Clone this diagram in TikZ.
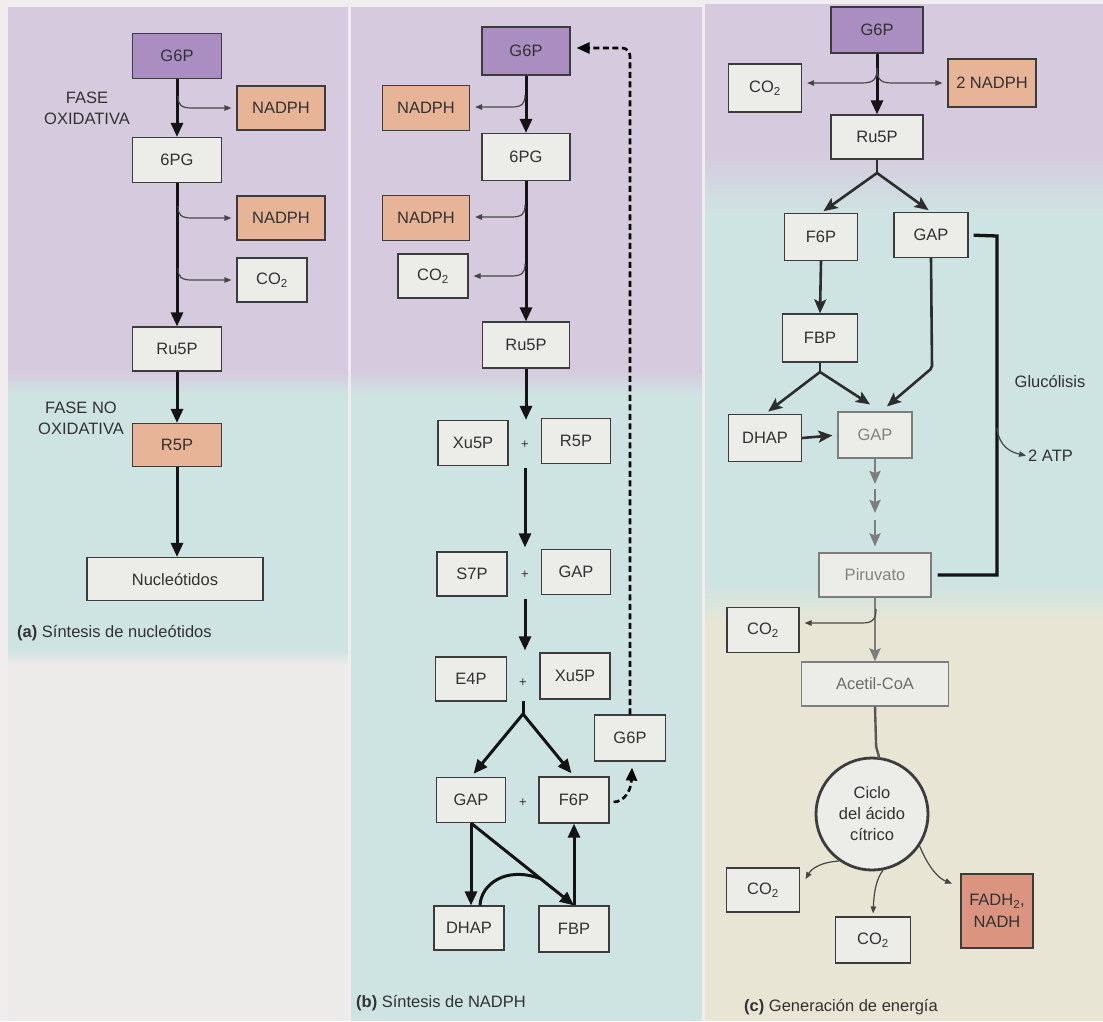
\documentclass[tikz,border=0pt]{standalone}
\usepackage{fontspec}
\setmainfont{Liberation Sans}
\usetikzlibrary{arrows.meta,calc}
\definecolor{bgpurple}{RGB}{214,202,222}
\definecolor{bgteal}{RGB}{206,228,226}
\definecolor{bgbeige}{RGB}{232,229,213}
\definecolor{bglight}{RGB}{236,235,233}
\definecolor{bgmargin}{RGB}{241,237,239}
\definecolor{boxfill}{RGB}{236,236,233}
\definecolor{purplebox}{RGB}{170,142,194}
\definecolor{orangebox}{RGB}{232,180,152}
\definecolor{salmonbox}{RGB}{218,148,128}
\definecolor{boxline}{RGB}{60,60,60}
\definecolor{txt}{RGB}{50,50,50}
\definecolor{thinc}{RGB}{70,70,70}
\definecolor{arrc}{RGB}{45,45,45}
\definecolor{arrgrey}{RGB}{125,125,125}
\definecolor{txtgrey}{RGB}{130,130,130}
\newcommand{\myfs}{\fontsize{16.5}{21}\selectfont}
\newcommand{\msub}[1]{\textsubscript{#1}}
\begin{document}
\begin{tikzpicture}[x=1pt,y=-1pt,
  box/.style={draw=boxline, line width=1.2pt, fill=boxfill, text=txt, font=\myfs, inner sep=0pt, align=center},
  sz/.style 2 args={minimum width=#1pt, minimum height=#2pt},
  pur/.style={fill=purplebox},
  ora/.style={fill=orangebox},
  lbl/.style={text=txt, font=\myfs, align=center, inner sep=0pt},
  plus/.style={text=txt, font=\fontsize{13}{13}\selectfont, inner sep=0pt},
  main/.style={draw=black!92, line width=3pt, -{Triangle[length=14pt,width=12pt]}},
  mainline/.style={draw=black!92, line width=3pt},
  mainc/.style={draw=arrc, line width=2.6pt, -{Stealth[length=14pt,width=12pt,inset=3pt]}},
  greyarr/.style={draw=arrgrey, line width=2.5pt, -{Stealth[length=13pt,width=11pt,inset=2pt]}},
  thin/.style={draw=thinc, line width=1.2pt, -{Triangle[length=7pt,width=5.5pt]}, shorten >=5pt},
  dsh/.style={draw=black, line width=2.6pt, dash pattern=on 6pt off 3.5pt, -{Triangle[length=13pt,width=11pt]}}
]
\useasboundingbox (0,0) rectangle (1103,1021);
% ---------- backgrounds
\fill[bgmargin] (0,0) rectangle (1103,1021);
% panel a
\fill[bgpurple] (8,7) rectangle (348,372);
\shade[top color=bgpurple,bottom color=bgteal] (8,372) rectangle (348,394);
\fill[bgteal] (8,394) rectangle (348,650);
\shade[top color=bgteal,bottom color=bglight] (8,650) rectangle (348,664);
\fill[bglight] (8,664) rectangle (348,1021);
% panel b
\fill[bgpurple] (351,7) rectangle (702,370);
\shade[top color=bgpurple,bottom color=bgteal] (351,370) rectangle (702,396);
\fill[bgteal] (351,396) rectangle (702,1021);
% panel c
\fill[bgpurple] (705,4) rectangle (1103,150);
\shade[top color=bgpurple,bottom color=bgteal] (705,150) rectangle (1103,215);
\fill[bgteal] (705,215) rectangle (1103,585);
\shade[top color=bgteal,bottom color=bgbeige] (705,585) rectangle (1103,622);
\fill[bgbeige] (705,622) rectangle (1103,1021);

% ================= panel (a)
\node[box,pur,sz={89}{45}] (aG6P) at (177,56) {G6P};
\node[box,ora,sz={88}{44}] (aN1) at (281,108) {NADPH};
\node[box,sz={89}{45}] (a6PG) at (177,160) {6PG};
\node[box,ora,sz={88}{44}] (aN2) at (281,218) {NADPH};
\node[box,sz={70}{44}] (aCO2) at (272,280) {CO\msub{2}};
\node[box,sz={89}{44}] (aRu5P) at (177,349) {Ru5P};
\node[box,ora,sz={89}{43}] (aR5P) at (177,445) {R5P};
\node[box,sz={176}{43}] (aNuc) at (175,579) {Nucleótidos};
\node[lbl] (aFase1) at (87,108) {FASE\\OXIDATIVA};
\node[lbl] (aFase2) at (81,418) {FASE NO\\OXIDATIVA};
\node[lbl,anchor=west] (aCap) at (17,633) {\textbf{(a)} Síntesis de nucleótidos};

\draw[main] (aG6P.south) -- (a6PG.north);
\draw[main] (a6PG.south) -- (aRu5P.north);
\draw[main] (aRu5P.south) -- (aR5P.north);
\draw[main] (aR5P.south) -- (aR5P.south |- aNuc.north);
\coordinate (ab1) at (178,96);
\coordinate (ab2) at (178,206);
\coordinate (ab3) at (178,268);
\draw[thin] (ab1) .. controls (178,105) and (181,108) .. (192,108) -- (aN1.west);
\draw[thin] (ab2) .. controls (178,215) and (181,218) .. (192,218) -- (aN2.west);
\draw[thin] (ab3) .. controls (178,277) and (181,280) .. (192,280) -- (aCO2.west);

% ================= panel (b)
\node[box,pur,sz={88}{48}] (bG6P) at (526,51) {G6P};
\node[box,ora,sz={87}{45}] (bN1) at (426,108) {NADPH};
\node[box,sz={88}{47}] (b6PG) at (526,157) {6PG};
\node[box,ora,sz={87}{45}] (bN2) at (426,218) {NADPH};
\node[box,sz={70}{44}] (bCO2) at (433,276) {CO\msub{2}};
\node[box,sz={87}{46}] (bRu5P) at (526,345) {Ru5P};
\node[box,sz={70}{45}] (bXu5P) at (473,443) {Xu5P};
\node[box,sz={69}{45}] (bR5P) at (576,441) {R5P};
\node[box,sz={70}{44}] (bS7P) at (472,574) {S7P};
\node[box,sz={69}{45}] (bGAP) at (576,572) {GAP};
\node[box,sz={71}{44}] (bE4P) at (471,679) {E4P};
\node[box,sz={70}{46}] (bXu5Pb) at (575,676) {Xu5P};
\node[box,sz={71}{46}] (bG6Pb) at (630,738) {G6P};
\node[box,sz={69}{45}] (bGAPb) at (471,800) {GAP};
\node[box,sz={70}{46}] (bF6P) at (574,800) {F6P};
\node[box,sz={70}{44}] (bDHAP) at (469,928) {DHAP};
\node[box,sz={70}{46}] (bFBP) at (574,929) {FBP};
\node[plus] (bp1) at (525,445) {+};
\node[plus] (bp2) at (525,575) {+};
\node[plus] (bp3) at (523,683) {+};
\node[plus] (bp4) at (523,803) {+};
\node[lbl,anchor=west] (bCap) at (356,1003) {\textbf{(b)} Síntesis de NADPH};

\draw[main] (bG6P.south) -- (b6PG.north);
\draw[main] (b6PG.south) -- (bRu5P.north);
\draw[main] (bRu5P.south) -- (bRu5P.south |- bXu5P.north);
\draw[main, shorten <=2pt, shorten >=4pt] (bp1 |- bXu5P.south) -- (bp1 |- bS7P.north);
\draw[main, shorten <=2pt, shorten >=6pt] (bp2 |- bS7P.south) -- (bp2 |- bE4P.north);
\coordinate (bb1) at (525,95);
\coordinate (bb2) at (525,205);
\coordinate (bb3) at (525,264);
\draw[thin] (bb1) .. controls (525,104) and (522,107) .. (511,107) -- (bN1.east |- 0,107);
\draw[thin] (bb2) .. controls (525,214) and (522,217) .. (511,217) -- (bN2.east |- 0,217);
\draw[thin] (bb3) .. controls (525,273) and (522,276) .. (511,276) -- (bCO2.east);
% split
\coordinate (bs0) at (523,701);
\coordinate (bs1) at (523,714);
\draw[mainline] (bs0) -- (bs1);
\draw[main, shorten >=4pt] (bs1) -- (bGAPb.north);
\draw[main, shorten >=4pt] (bs1) -- (bF6P.north);
% lower loop
\draw[main] (bGAPb.south) -- (bGAPb.south |- bDHAP.north);
\draw[main] (bGAPb.south) -- (bFBP.north);
\draw[mainline] ($(bDHAP.north)+(11,0)$) .. controls (481,884) and (506,866) .. (540,878.5);
\draw[main] (bFBP.north) -- (bF6P.south);
% dashed return
\draw[dsh] ($(bF6P.east)+(4,2)$) .. controls (623,802) and (631,792) .. ($(bG6Pb.south)+(2,6)$);
\draw[dsh, rounded corners=8pt] (bG6Pb.north) |- ($(bG6P.east)+(6,-3)$);

% ================= panel (c)
\node[box,pur,sz={92}{46}] (cG6P) at (877,30) {G6P};
\node[box,sz={73}{48}] (cCO2a) at (765,88) {CO\msub{2}};
\node[box,ora,sz={88}{48}] (cN) at (992,83) {2 NADPH};
\node[box,sz={92}{44}] (cRu5P) at (877,137) {Ru5P};
\node[box,sz={73}{47}] (cF6P) at (821,237) {F6P};
\node[box,sz={74}{45}] (cGAP) at (931,235) {GAP};
\node[box,sz={75}{48}] (cFBP) at (820,338) {FBP};
\node[box,sz={73}{47}] (cDHAP) at (765,438) {DHAP};
\node[box,sz={74}{46},draw=arrgrey,text=txtgrey] (cGAP2) at (875,435) {GAP};
\node[box,sz={112}{44},draw=arrgrey,text=txtgrey] (cPir) at (875,575) {Piruvato};
\node[box,sz={72}{45}] (cCO2b) at (763,630) {CO\msub{2}};
\node[box,sz={147}{44},draw=arrgrey,text=txtgrey!85!black] (cAce) at (875,684) {Acetil-CoA};
\node[box,circle,minimum size=112pt,line width=2.8pt] (cCyc) at (872,814) {Ciclo\\del ácido\\cítrico};
\node[box,sz={73}{44}] (cCO2c) at (763,890) {CO\msub{2}};
\node[box,sz={75}{46}] (cCO2d) at (873,940) {CO\msub{2}};
\node[box,sz={72}{74},fill=salmonbox,font=\fontsize{16.5}{22}\selectfont] (cFAD) at (997,911) {FADH\msub{2},\\NADH};
\node[lbl] (cGlu) at (1050,381) {Glucólisis};
\node[lbl,anchor=west] (cATP) at (1028,456) {2 ATP};
\node[lbl,anchor=west] (cCap) at (744,1007) {\textbf{(c)} Generación de energía};

\draw[main] (cG6P.south) -- (cRu5P.north);
\coordinate (cb1) at (877,68);
\draw[thin] (cb1) .. controls (877,79) and (874,83) .. (862,83) -- (cCO2a.east |- cN.west);
\draw[thin] (cb1) .. controls (877,79) and (880,83) .. (892,83) -- (cN.west);
% Ru5P split
\coordinate (cs1) at (877,173);
\draw[draw=arrc, line width=2.6pt] (cRu5P.south) -- (cs1);
\draw[mainc, shorten >=3pt] (cs1) -- (cF6P.north);
\draw[mainc, shorten >=3pt] (cs1) -- (cGAP.north);
\draw[mainc] (cF6P.south) -- (cFBP.north);
% FBP split
\coordinate (cs2) at (820,372);
\draw[draw=arrc, line width=2.6pt] (cFBP.south) -- (cs2);
\draw[mainc, shorten >=4pt] (cs2) -- (cDHAP.north);
\draw[mainc] (cs2) -- ($(cGAP2.north)+(-5,-7)$);
\draw[mainc, rounded corners=2pt] (cGAP.south) -- (932,368) -- ($(cGAP2.north)+(12,-5)$);
\draw[mainc, shorten >=5pt] (cDHAP.east) -- (cGAP2.west);
% glycolysis bracket
\coordinate (cglc) at (997,236);
\draw[draw=black!92, line width=3.3pt, shorten <=5pt, shorten >=6pt] (cGAP.east) -- (cglc) -- (cglc |- cPir.east) -- (cPir.east);
\coordinate (catp) at (997,428);
\draw[thin, shorten >=2pt] (catp) .. controls (999,446) and (1010,452) .. (cATP.west);
% GAP -> Piruvato
\draw[greyarr] (cGAP2.south) -- (875,484);
\draw[greyarr] (875,489) -- (875,513);
\draw[greyarr] (875,520) -- ($(cPir.north)+(0,-6)$);
\draw[greyarr] (cPir.south) -- (cAce.north);
\coordinate (cb2) at (876,609);
\draw[thin] (cb2) .. controls (876,619) and (873,623) .. (862,623) -- ($(cCO2b.east)+(0,-7)$);
% Acetil-CoA -> cycle
\draw[draw=arrc!80, line width=2.4pt] (cAce.south) -- (876,742) .. controls (876,752) and (879,752) .. (879,759);
% cycle products
\draw[thin, shorten >=1pt] (cCyc.-125) .. controls (822,862) and (812,868) .. (805,880);
\draw[thin, shorten >=3pt] (cCyc.-79) .. controls (877,878) and (874,890) .. (cCO2d.north);
\draw[thin, shorten >=1pt] (cCyc.-34) .. controls (929,868) and (938,878) .. (953,884);
\end{tikzpicture}
\end{document}
